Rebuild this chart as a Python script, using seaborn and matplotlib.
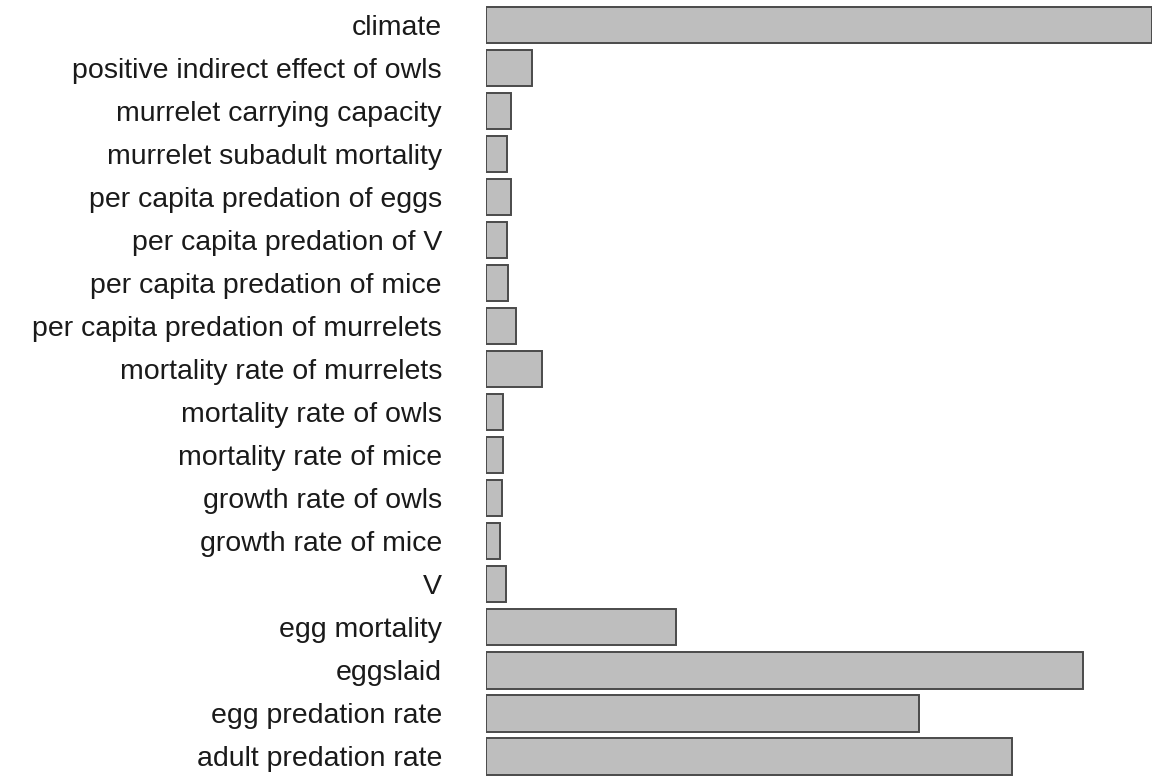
import matplotlib
matplotlib.use("Agg")
import matplotlib.pyplot as plt
import seaborn as sns
import pandas as pd

# Parameters, listed top to bottom
parameters = [
    "climate",
    "positive indirect effect of owls",
    "murrelet carrying capacity",
    "murrelet subadult mortality",
    "per capita predation of eggs",
    "per capita predation of V",
    "per capita predation of mice",
    "per capita predation of murrelets",
    "mortality rate of murrelets",
    "mortality rate of owls",
    "mortality rate of mice",
    "growth rate of owls",
    "growth rate of mice",
    "V",
    "egg mortality",
    "eggslaid",
    "egg predation rate",
    "adult predation rate",
]
# Relative importance of each parameter
importance = [
    66.6, 4.6, 2.5, 2.1, 2.5, 2.1, 2.2, 3.0, 5.6,
    1.7, 1.7, 1.6, 1.4, 2.0, 19.0, 59.7, 43.3, 52.6,
]

df = pd.DataFrame({"parameter": parameters, "importance": importance})

sns.set_style("white")
plt.rcParams["font.family"] = ["Liberation Sans", "DejaVu Sans"]

fig = plt.figure(figsize=(11.53, 7.78), dpi=100)
ax = fig.add_axes([486 / 1153, 0.0, (1152 - 486) / 1153, 1 - 3.5 / 778])

sns.barplot(
    data=df, x="importance", y="parameter", orient="h",
    color="#bebebe", saturation=1, edgecolor="#4a4a4a", linewidth=1.4,
    width=0.84, ax=ax,
)

ax.set_xlim(0, max(importance))
ax.set_ylim(len(parameters) - 0.5, -0.5)
ax.set_xlabel("")
ax.set_ylabel("")
ax.set_xticks([])
for s in ax.spines.values():
    s.set_visible(False)
ax.tick_params(axis="y", length=0, pad=31.7, labelsize=20.5, labelcolor="#1a1a1a")
for lbl in ax.get_yticklabels():
    lbl.set_va("center_baseline")

fig.savefig("out.png", dpi=100)
